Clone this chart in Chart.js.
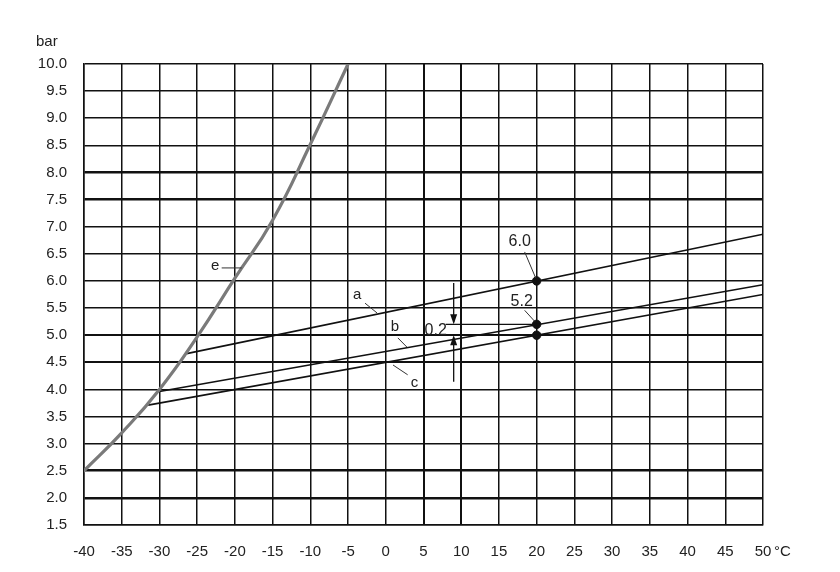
<!DOCTYPE html>
<html><head><meta charset="utf-8">
<script src="https://cdn.jsdelivr.net/npm/chart.js@4/dist/chart.umd.min.js"></script>
<style>html,body{margin:0;padding:0;background:#fff}#wrap{width:840px;height:572px;position:relative}</style>
</head><body><div id="wrap"><canvas id="c"></canvas></div>
<script>
// ---- data ----
const xTicks = [-40,-35,-30,-25,-20,-15,-10,-5,0,5,10,15,20,25,30,35,40,45,50];
const yTicks = [1.5,2.0,2.5,3.0,3.5,4.0,4.5,5.0,5.5,6.0,6.5,7.0,7.5,8.0,8.5,9.0,9.5,10.0];
const curveE_x = [-40,-35,-30,-25,-20,-15,-10,-5];
const curveE_y = [2.5,3.2,4.0,4.97,6.05,7.12,8.52,10.0];
const lineA_x = [-26.4,50]; const lineA_y = [4.66,6.86];
const lineB_x = [-30,50];   const lineB_y = [3.96,5.93];
const lineC_x = [-31.5,50]; const lineC_y = [3.71,5.75];
const pointsX = [20,20,20]; const pointsY = [6.0,5.2,5.0];
const pointLabels = ['6.0','5.2'];
const arrowX = 9; const arrowTopFrom = 5.96, arrowTopTo = 5.2, arrowBotFrom = 4.14, arrowBotTo = 5.0;
const thickY = [2.0,2.5,7.5,8.0]; const midY = [4.5,5.0]; const midX = [5,10];

const toPts = (xs,ys)=>xs.map((x,i)=>({x:x,y:ys[i]}));
const FONT = '"Liberation Sans", Arial, sans-serif';

const annot = {
  id:'annot',
  afterDatasetsDraw(chart){
    const ctx = chart.ctx, xs = chart.scales.x, ys = chart.scales.y;
    const X = v=>xs.getPixelForValue(v), Y = v=>ys.getPixelForValue(v);
    const seg=(x1,y1,x2,y2)=>{ctx.beginPath();ctx.moveTo(X(x1),Y(y1));ctx.lineTo(X(x2),Y(y2));ctx.stroke();};
    ctx.save();
    ctx.fillStyle='#222'; ctx.strokeStyle='#333'; ctx.lineWidth=1;
    ctx.font='16px '+FONT; ctx.textAlign='center'; ctx.textBaseline='middle';
    // point labels with leaders
    ctx.fillText(pointLabels[0], X(20)-17, Y(6.0)-39);
    ctx.beginPath(); ctx.moveTo(X(20)-12, Y(6.0)-29); ctx.lineTo(X(20)-1, Y(6.0)-3); ctx.stroke();
    ctx.fillText(pointLabels[1], X(20)-15, Y(5.2)-23);
    ctx.beginPath(); ctx.moveTo(X(20)-12, Y(5.2)-14); ctx.lineTo(X(20)-2, Y(5.2)-3); ctx.stroke();
    // series labels
    ctx.font='15px '+FONT;
    ctx.fillText('a', X(-3.8), Y(5.74));
    seg(-2.75,5.59,-1.16,5.41);
    ctx.fillText('b', X(1.2), Y(5.15));
    seg(1.6,4.95,2.8,4.78);
    ctx.fillText('c', X(3.8), Y(4.12));
    seg(0.96,4.45,2.9,4.27);
    ctx.fillText('e', X(-22.6), Y(6.27));
    seg(-21.75,6.24,-19.1,6.24);
    // arrows
    ctx.strokeStyle='#111'; ctx.fillStyle='#111'; ctx.lineWidth=1.3;
    const ax = X(arrowX);
    ctx.beginPath(); ctx.moveTo(ax, Y(arrowTopFrom)); ctx.lineTo(ax, Y(arrowTopTo)-2); ctx.stroke();
    ctx.beginPath(); ctx.moveTo(ax, Y(arrowTopTo)); ctx.lineTo(ax-3.5, Y(arrowTopTo)-10); ctx.lineTo(ax+3.5, Y(arrowTopTo)-10); ctx.closePath(); ctx.fill();
    ctx.beginPath(); ctx.moveTo(ax, Y(arrowBotFrom)); ctx.lineTo(ax, Y(arrowBotTo)+2); ctx.stroke();
    ctx.beginPath(); ctx.moveTo(ax, Y(arrowBotTo)); ctx.lineTo(ax-3.5, Y(arrowBotTo)+10); ctx.lineTo(ax+3.5, Y(arrowBotTo)+10); ctx.closePath(); ctx.fill();
    ctx.beginPath(); ctx.moveTo(ax-8, Y(arrowTopTo)); ctx.lineTo(X(20), Y(arrowTopTo)); ctx.stroke();
    ctx.fillStyle='#222'; ctx.font='16px '+FONT; ctx.fillText('0.2', ax-18, Y(5.1)+1);
    // axis unit labels
    ctx.font='15px '+FONT; ctx.textAlign='left';
    ctx.fillText('bar', 36, 42);
    ctx.fillText('°C', xs.getPixelForValue(50)+11, ys.bottom+27);
    ctx.restore();
  }
};

const gridW = v => thickY.includes(v) ? 2.6 : (midY.includes(v) ? 2.0 : 1.5);

new Chart(document.getElementById('c'), {
  type:'scatter',
  data:{datasets:[
    {label:'e', data:toPts(curveE_x,curveE_y), showLine:true, borderColor:'#7a7a7a', borderWidth:3.2, pointRadius:0, tension:0.5, borderCapStyle:'round', borderJoinStyle:'round'},
    {label:'a', data:toPts(lineA_x,lineA_y), showLine:true, borderColor:'#111', borderWidth:1.6, pointRadius:0},
    {label:'b', data:toPts(lineB_x,lineB_y), showLine:true, borderColor:'#111', borderWidth:1.6, pointRadius:0},
    {label:'c', data:toPts(lineC_x,lineC_y), showLine:true, borderColor:'#111', borderWidth:1.6, pointRadius:0},
    {label:'pts', data:toPts(pointsX,pointsY), showLine:false, backgroundColor:'#111', borderColor:'#111', pointRadius:4.2}
  ]},
  options:{
    responsive:true, maintainAspectRatio:false, animation:false,
    layout:{padding:{left:0,right:77,top:64,bottom:0}},
    plugins:{legend:{display:false}, tooltip:{enabled:false}},
    scales:{
      x:{type:'linear', min:-40, max:50,
        afterBuildTicks:s=>{s.ticks = xTicks.map(v=>({value:v}));},
        afterFit:s=>{s.height = 47;},
        ticks:{color:'#222', font:{family:FONT,size:15}, padding:18, maxRotation:0, autoSkip:false, callback:v=>String(v)},
        grid:{color:'#111', lineWidth:c=>midX.includes(c.tick && c.tick.value)?2.0:1.5, drawTicks:false},
        border:{color:'#111', width:1.5}},
      y:{type:'linear', min:1.5, max:10,
        afterBuildTicks:s=>{s.ticks = yTicks.map(v=>({value:v}));},
        afterFit:s=>{s.width = 84;},
        ticks:{color:'#222', font:{family:FONT,size:15}, padding:17, autoSkip:false, callback:v=>Number(v).toFixed(1)},
        grid:{color:'#111', lineWidth:c=>gridW(c.tick && c.tick.value), drawTicks:false},
        border:{color:'#111', width:1.5}}
    }
  },
  plugins:[annot]
});
</script></body></html>
